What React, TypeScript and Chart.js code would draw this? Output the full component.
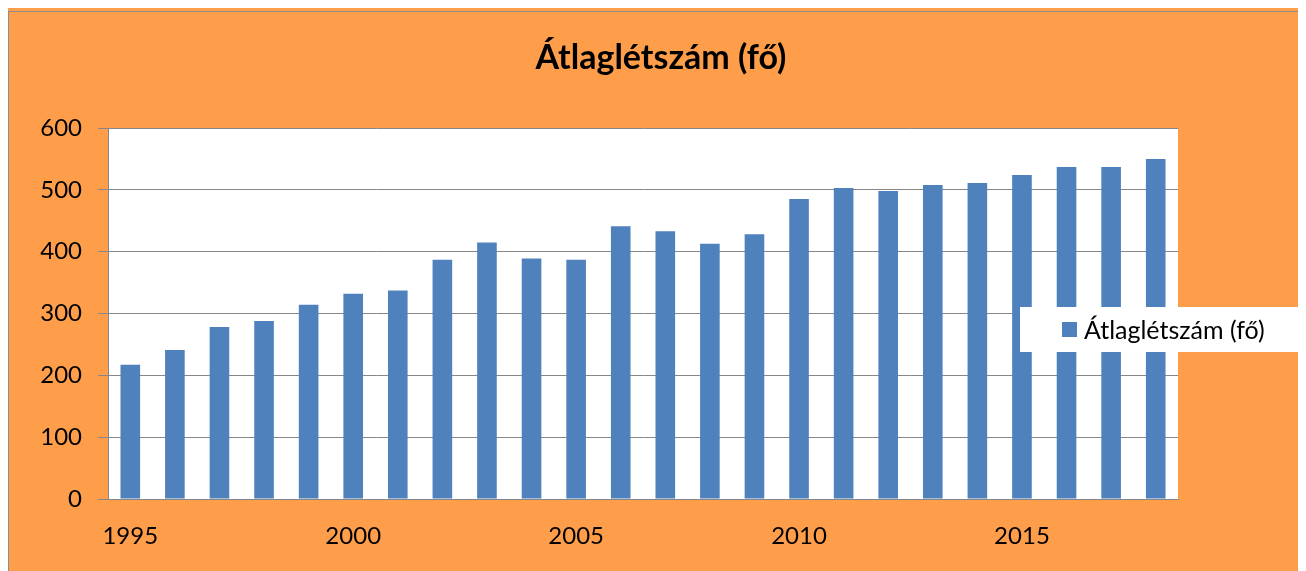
import React, { useEffect, useRef } from "react";
import { Chart, registerables } from "chart.js";

Chart.register(...registerables);

const years = [
  "1995", "1996", "1997", "1998", "1999", "2000", "2001", "2002",
  "2003", "2004", "2005", "2006", "2007", "2008", "2009", "2010",
  "2011", "2012", "2013", "2014", "2015", "2016", "2017", "2018",
];
const headcount = [
  217, 241, 278, 288, 314, 332, 337, 387,
  415, 389, 387, 441, 433, 413, 428, 485,
  503, 498, 508, 511, 524, 537, 537, 550,
];
const seriesLabel = "Átlaglétszám (fő)";
const chartTitle = "Átlaglétszám (fő)";
const yMin = 0;
const yMax = 600;
const yStep = 100;
const labelEvery = 5;

const ORANGE = "#ff9e4a";
const BLUE = "#4f81bd";
const GRID = "#878787";
const FONT = "Lato, 'Open Sans', sans-serif";

const W = 1298;
const H = 563;

const plotBackground = {
  id: "plotBackground",
  beforeDraw(chart: any) {
    const { ctx, chartArea } = chart;
    ctx.save();
    ctx.fillStyle = "#ffffff";
    ctx.fillRect(chartArea.left, chartArea.top, chartArea.right - chartArea.left, chartArea.bottom - chartArea.top);
    ctx.restore();
  },
};

const titlePlugin = {
  id: "centeredTitle",
  afterDraw(chart: any) {
    const { ctx } = chart;
    ctx.save();
    ctx.fillStyle = "#000000";
    ctx.font = `bold 34px ${FONT}`;
    ctx.textAlign = "center";
    ctx.textBaseline = "middle";
    ctx.fillText(chartTitle, chart.width / 2 + 4, 50);
    ctx.restore();
  },
};

const legendBox = {
  id: "legendBox",
  afterDraw(chart: any) {
    const { ctx } = chart;
    const ds = chart.data.datasets[0];
    const x = 1012, y = 299, w = 278, h = 45;
    ctx.save();
    ctx.fillStyle = "#ffffff";
    ctx.fillRect(x, y, w, h);
    ctx.fillStyle = ds.backgroundColor;
    ctx.fillRect(x + 42, y + 15, 15, 15);
    ctx.fillStyle = "#000000";
    ctx.font = `25px ${FONT}`;
    ctx.textAlign = "left";
    ctx.textBaseline = "middle";
    ctx.fillText(ds.label, x + 64, y + h / 2 + 1);
    ctx.restore();
  },
};

export default function App() {
  const ref = useRef<HTMLCanvasElement | null>(null);

  useEffect(() => {
    if (!ref.current) return;
    const chart = new Chart(ref.current, {
      type: "bar",
      data: {
        labels: years,
        datasets: [
          {
            label: seriesLabel,
            data: headcount,
            backgroundColor: BLUE,
            borderWidth: 0,
            categoryPercentage: 1,
            barPercentage: 0.44,
          },
        ],
      },
      options: {
        responsive: false,
        animation: false,
        layout: { padding: { left: 0, right: 128, top: 120, bottom: 12 } },
        plugins: {
          legend: { display: false },
          title: { display: false },
          tooltip: { enabled: false },
        },
        scales: {
          x: {
            grid: { display: false, drawTicks: false },
            border: { display: true, color: GRID, width: 1 },
            ticks: {
              autoSkip: false,
              maxRotation: 0,
              minRotation: 0,
              padding: 23,
              color: "#000000",
              font: { family: FONT, size: 24 },
              callback: (_v: any, i: number) => (i % labelEvery === 0 ? years[i] : ""),
            },
            afterFit: (s: any) => {
              s.height = 60;
            },
          },
          y: {
            min: yMin,
            max: yMax,
            grid: { color: GRID, lineWidth: 1, tickLength: 10, drawTicks: true },
            border: { display: true, color: GRID, width: 1 },
            ticks: {
              stepSize: yStep,
              padding: 16,
              color: "#000000",
              font: { family: FONT, size: 24 },
            },
            afterFit: (s: any) => {
              s.width = 100;
            },
          },
        },
      },
      plugins: [plotBackground, titlePlugin, legendBox],
    });
    return () => chart.destroy();
  }, []);

  return (
    <div style={{ position: "relative", width: W, height: H, background: ORANGE }}>
      <div
        style={{
          position: "absolute",
          top: 3,
          left: 0,
          right: 0,
          bottom: 0,
          borderTop: "1px solid #8c8c8c",
          borderLeft: "1px solid #8c8c8c",
        }}
      />
      <canvas ref={ref} width={W} height={H} style={{ position: "absolute", top: 0, left: 0, display: "block" }} />
    </div>
  );
}
